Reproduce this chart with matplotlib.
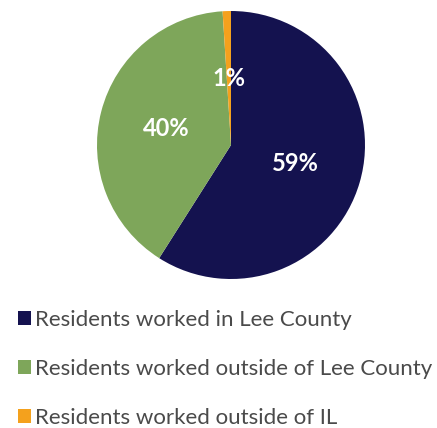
import matplotlib.pyplot as plt
from matplotlib.patches import Patch

categories = ["Residents worked in Lee County",
              "Residents worked outside of Lee County",
              "Residents worked outside of IL"]
shares = [59, 40, 1]
colors = ["#14124f", "#7ea65a", "#f4a11d"]

plt.rcParams['font.family'] = ['Lato', 'DejaVu Sans']

fig = plt.figure(figsize=(4.37, 4.28), dpi=100)

# pie area, 268 px across, centred near the top
ax = fig.add_axes([97 / 437, (428 - 145 - 134) / 428, 268 / 437, 268 / 428])
wedges, texts, autotexts = ax.pie(
    shares, colors=colors, startangle=90, counterclock=False,
    autopct=lambda p: f"{p:.0f}%", pctdistance=0.5,
    wedgeprops=dict(linewidth=0))
for t in autotexts:
    t.set_color("white")
    t.set_fontsize(17)
    t.set_fontweight("bold")
ax.set_xlim(-1, 1)
ax.set_ylim(-1, 1)
ax.set_aspect("equal")
ax.axis("off")

handles = [Patch(facecolor=c, edgecolor="none") for c in colors]
leg = fig.legend(handles, categories, loc="upper left",
                 bbox_to_anchor=(18 / 437, 1 - 310 / 428),
                 frameon=False, fontsize=16, handlelength=0.6, handleheight=0.6,
                 handletextpad=0.15, labelspacing=1.3, borderpad=0, borderaxespad=0)
for t in leg.get_texts():
    t.set_color("#4a4a4a")

fig.savefig("out.png", dpi=100)
